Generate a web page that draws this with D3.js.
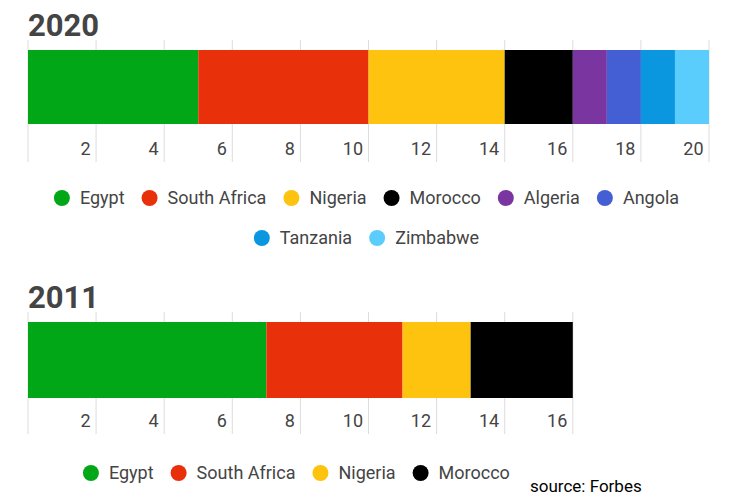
<!DOCTYPE html>
<html lang="en">
<head>
<meta charset="UTF-8">
<script src="https://d3js.org/d3.v7.min.js"></script>
<style>
  body { margin: 0; background: #fff; }
  text { font-family: Roboto, sans-serif; }
</style>
</head>
<body>
<svg width="729" height="500"></svg>
<script>
    // data
    const countries2020 = ["Egypt", "South Africa", "Nigeria", "Morocco", "Algeria", "Angola", "Tanzania", "Zimbabwe"];
    const values2020 = [5, 5, 4, 2, 1, 1, 1, 1];
    const countries2011 = ["Egypt", "South Africa", "Nigeria", "Morocco"];
    const values2011 = [7, 4, 2, 3];
    const ticks2020 = [2, 4, 6, 8, 10, 12, 14, 16, 18, 20];
    const ticks2011 = [2, 4, 6, 8, 10, 12, 14, 16];
    const colors = {
        "Egypt": "#02a718", "South Africa": "#e8300a", "Nigeria": "#fdc30f", "Morocco": "#000000",
        "Algeria": "#7a35a0", "Angola": "#445ed4", "Tanzania": "#0b96e0", "Zimbabwe": "#5bcdfc"
    };

    const svg = d3.select("svg");
    const left = 28;
    const unit = 34.05;

    function panel(title, names, values, ticks, top, barH, legendTop, legendShift, legendRows) {
        const max = d3.sum(values);
        const x = d3.scaleLinear().domain([0, max]).range([left, left + unit * max]);
        const g = svg.append("g");

        g.append("text").attr("x", left).attr("y", top - 14)
            .attr("font-size", 31).attr("font-weight", "bold").attr("fill", "#444").text(title);

        // gridlines
        g.selectAll(".grid").data([0].concat(ticks)).join("line")
            .attr("x1", d => x(d)).attr("x2", d => x(d))
            .attr("y1", top - 10).attr("y2", top + 112)
            .attr("stroke", "#ddd").attr("stroke-width", 1);

        const stack = [];
        let acc = 0;
        values.forEach((v, i) => { stack.push({name: names[i], x0: acc, x1: acc + v}); acc += v; });
        g.selectAll(".seg").data(stack).join("rect")
            .attr("x", d => x(d.x0)).attr("width", d => x(d.x1) - x(d.x0))
            .attr("y", top).attr("height", barH)
            .attr("fill", d => colors[d.name]);

        const axis = d3.axisBottom(x).tickValues(ticks).tickSize(0).tickPadding(0);
        const ag = g.append("g").attr("transform", `translate(0,${top + 105})`).call(axis);
        ag.select(".domain").remove();
        ag.selectAll("text").attr("font-size", 18).attr("fill", "#444")
            .attr("text-anchor", "end").attr("dx", -6).attr("dy", 0);

        // legend
        const cx = (x(0) + x(max)) / 2 + legendShift;
        legendRows.forEach((row, ri) => {
            const y = top + legendTop + ri * 40;
            const lg = g.append("g");
            let pos = 0;
            row.forEach(name => {
                lg.append("circle").attr("cx", pos + 8).attr("cy", y).attr("r", 8).attr("fill", colors[name]);
                const t = lg.append("text").attr("x", pos + 26).attr("y", y + 6)
                    .attr("font-size", 18).attr("fill", "#444").text(name);
                pos += 26 + t.node().getComputedTextLength() + 17;
            });
            pos -= 17;
            lg.attr("transform", `translate(${cx - pos / 2},0)`);
        });
    }

    panel("2020", countries2020, values2020, ticks2020, 50, 74, 148, -2,
        [countries2020.slice(0, 6), countries2020.slice(6)]);
    panel("2011", countries2011, values2011, ticks2011, 322, 76, 151, -4, [countries2011]);

    svg.append("text").attr("x", 530).attr("y", 492).attr("font-size", 17)
        .attr("font-family", "Arial, Liberation Sans, sans-serif").attr("fill", "#000").text("source: Forbes");
</script>
</body>
</html>
